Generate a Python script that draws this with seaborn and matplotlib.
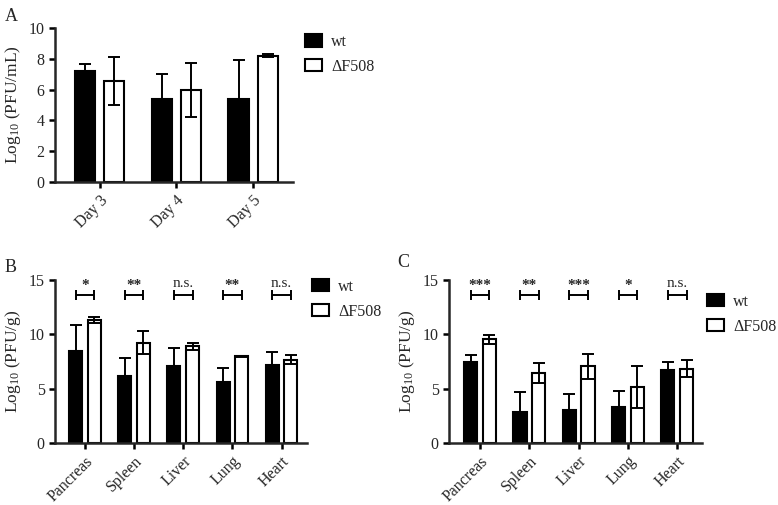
import matplotlib
matplotlib.use("Agg")
import matplotlib.pyplot as plt
from matplotlib.patches import Patch
import seaborn as sns
import pandas as pd

# Panel A: serum titres by day
days = ["Day 3", "Day 4", "Day 5"]
a_wt = [7.23, 5.38, 5.42]
a_wt_err = [0.43, 1.63, 2.52]
a_df = [6.57, 5.97, 8.20]
a_df_err = [1.55, 1.75, 0.09]

# Panels B and C: organ titres
organs = ["Pancreas", "Spleen", "Liver", "Lung", "Heart"]
b_wt = [8.42, 6.18, 7.04, 5.63, 7.19]
b_wt_err = [2.45, 1.60, 1.74, 1.29, 1.14]
b_df = [11.33, 9.24, 8.88, 7.96, 7.65]
b_df_err = [0.30, 1.02, 0.28, 0.05, 0.42]
b_sig = ["*", "**", "n.s.", "**", "n.s."]

c_wt = [7.41, 2.82, 3.06, 3.34, 6.76]
c_wt_err = [0.70, 1.84, 1.44, 1.40, 0.71]
c_df = [9.55, 6.43, 7.07, 5.17, 6.83]
c_df_err = [0.41, 0.90, 1.15, 1.93, 0.80]
c_sig = ["***", "**", "***", "*", "n.s."]

groups = ["wt", "\u0394F508"]

sns.set_style("ticks")
plt.rcParams["font.family"] = ["Liberation Serif", "DejaVu Serif"]
plt.rcParams["mathtext.fontset"] = "custom"
plt.rcParams["mathtext.rm"] = "Liberation Serif"
plt.rcParams["mathtext.it"] = "Liberation Serif:italic"
plt.rcParams["axes.linewidth"] = 1.8
plt.rcParams["xtick.major.width"] = 1.8
plt.rcParams["ytick.major.width"] = 1.8

fig = plt.figure(figsize=(7.78, 5.05), dpi=100)
ax_a = fig.add_axes([0.0707, 0.6396, 0.306, 0.305])
ax_b = fig.add_axes([0.0707, 0.1228, 0.324, 0.3228])
ax_c = fig.add_axes([0.5771, 0.1228, 0.325, 0.3228])


def draw_panel(ax, cats, wt, wt_err, df, df_err, ymax, ystep, ylabel, xlim,
               leg_anchor):
    data = pd.DataFrame({
        "cat": cats * 2,
        "val": wt + df,
        "err": wt_err + df_err,
        "group": [groups[0]] * len(cats) + [groups[1]] * len(cats),
    })
    sns.barplot(data=data, x="cat", y="val", hue="group", hue_order=groups,
                palette=["black", "white"], edgecolor="black", linewidth=1.5,
                width=0.76, gap=0.3, errorbar=None, legend=False, ax=ax)
    xs = [p.get_x() + p.get_width() / 2 for p in ax.patches]
    hs = [p.get_height() for p in ax.patches]
    ax.errorbar(xs, hs, yerr=data["err"], fmt="none", ecolor="black",
                elinewidth=1.4, capsize=4, capthick=1.4, zorder=5)
    ax.set_ylim(0, ymax)
    ax.set_yticks(range(0, ymax + 1, ystep))
    ax.set_xlim(*xlim)
    ax.set_xlabel("")
    ax.set_ylabel(ylabel, fontsize=12.5)
    sns.despine(ax=ax)
    ax.tick_params(axis="both", labelsize=11.5, length=4, color="black")
    plt.setp(ax.get_xticklabels(), rotation=45, ha="right",
             rotation_mode="anchor")
    ax.legend(handles=[Patch(facecolor="black", edgecolor="black", lw=1.5),
                       Patch(facecolor="white", edgecolor="black", lw=1.5)],
              labels=groups, loc="upper left", bbox_to_anchor=leg_anchor,
              frameon=False, fontsize=11.5, borderpad=0, borderaxespad=0,
              handlelength=1.05, handleheight=0.8, handletextpad=0.6,
              labelspacing=0.55)
    return xs


def draw_sig(ax, xs, labels, n):
    for i, lab in enumerate(labels):
        x0, x1 = xs[i], xs[i + n]
        ax.errorbar((x0 + x1) / 2, 13.6, xerr=(x1 - x0) / 2, fmt="none",
                    ecolor="black", elinewidth=1.4, capsize=3.5, capthick=1.4,
                    clip_on=False)
        if lab == "n.s.":
            ax.text((x0 + x1) / 2, 14.05, lab, ha="center", va="bottom",
                    fontsize=11)
        else:
            ax.text((x0 + x1) / 2, 13.9, lab, ha="center", va="bottom",
                    fontsize=11, fontweight="bold")


draw_panel(ax_a, days, a_wt, a_wt_err, a_df, a_df_err, 10, 2,
           "Log$_{10}$ (PFU/mL)", (-0.58, 2.52), (1.05, 0.96))
xs_b = draw_panel(ax_b, organs, b_wt, b_wt_err, b_df, b_df_err, 15, 5,
                  "Log$_{10}$ (PFU/g)", (-0.61, 4.52), (1.02, 1.007))
draw_sig(ax_b, xs_b, b_sig, len(organs))
xs_c = draw_panel(ax_c, organs, c_wt, c_wt_err, c_df, c_df_err, 15, 5,
                  "Log$_{10}$ (PFU/g)", (-0.63, 4.5), (1.02, 0.915))
draw_sig(ax_c, xs_c, c_sig, len(organs))

fig.text(0.006, 0.985, "A", fontsize=13, va="top")
fig.text(0.006, 0.487, "B", fontsize=13, va="top")
fig.text(0.511, 0.497, "C", fontsize=13, va="top")

fig.savefig("out.png", dpi=100)
